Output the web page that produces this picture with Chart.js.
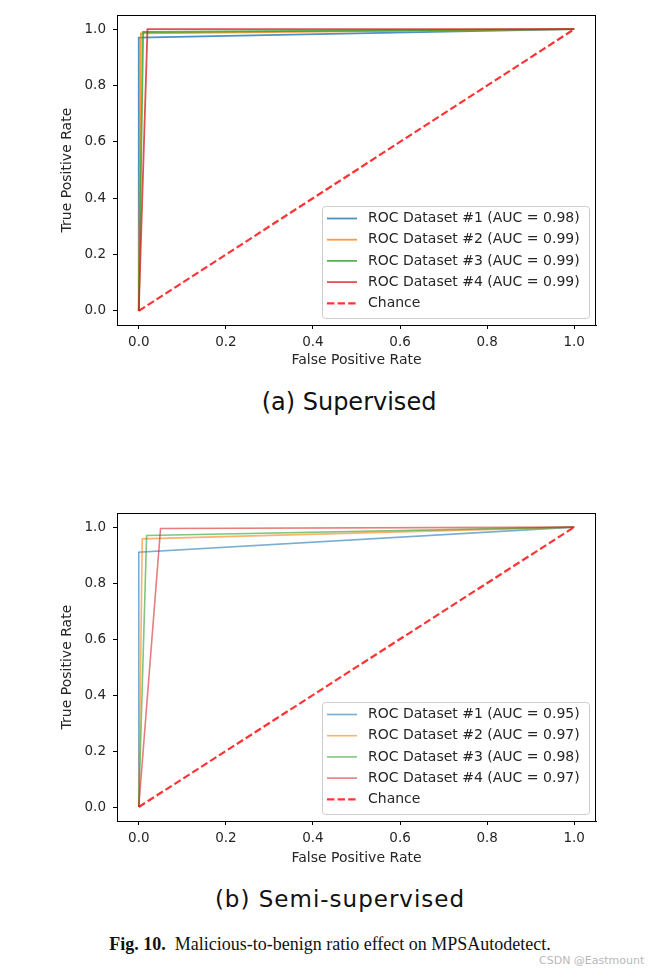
<!DOCTYPE html>
<html>
<head>
<meta charset="utf-8">
<script src="https://cdn.jsdelivr.net/npm/chart.js@4.4.0/dist/chart.umd.min.js"></script>
<style>
  body { margin: 0; background: #fff; width: 652px; height: 978px; position: relative; overflow: hidden; }
  .plot { position: absolute; left: 0; width: 652px; height: 375px; }
  .sub { position: absolute; white-space: nowrap; transform: translateX(-50%); font-family: "DejaVu Sans"; color: #111; line-height: normal; }
  .cap { position: absolute; left: 330px; top: 934px; transform: translateX(-50%); white-space: nowrap;
         font: 18px "Liberation Serif"; color: #111; }
  .mark { position: absolute; left: 539px; top: 954px; font: 11px "DejaVu Sans"; color: #b8b8b8; }
</style>
</head>
<body>
<div class="plot" style="top:0"><canvas id="supChart"></canvas></div>
<div class="sub" style="left:349px; top:388px; font-size:24px">(a) Supervised</div>
<div class="plot" style="top:498px"><canvas id="semiChart"></canvas></div>
<div class="sub" style="left:340px; top:886px; font-size:23px; letter-spacing:1px">(b) Semi-supervised</div>
<div class="cap"><b>Fig. 10.</b>&nbsp; Malicious-to-benign ratio effect on MPSAutodetect.</div>
<div class="mark">CSDN @Eastmount</div>

<script>
// ===== DATA =====
const axisTicks = [0, 0.2, 0.4, 0.6, 0.8, 1.0];

// (a) Supervised - ROC points per dataset
const supLabels = [
  'ROC Dataset #1 (AUC = 0.98)',
  'ROC Dataset #2 (AUC = 0.99)',
  'ROC Dataset #3 (AUC = 0.99)',
  'ROC Dataset #4 (AUC = 0.99)'
];
const supFpr1 = [0, 0, 1];     const supTpr1 = [0, 0.97, 1];
const supFpr2 = [0, 0.005, 1]; const supTpr2 = [0, 0.985, 1];
const supFpr3 = [0, 0.01, 1];  const supTpr3 = [0, 0.99, 1];
const supFpr4 = [0, 0.02, 1];  const supTpr4 = [0, 1.0, 1];

// (b) Semi-supervised
const semiLabels = [
  'ROC Dataset #1 (AUC = 0.95)',
  'ROC Dataset #2 (AUC = 0.97)',
  'ROC Dataset #3 (AUC = 0.98)',
  'ROC Dataset #4 (AUC = 0.97)'
];
const semiFpr1 = [0, 0, 1];     const semiTpr1 = [0, 0.91, 1];
const semiFpr2 = [0, 0.008, 1]; const semiTpr2 = [0, 0.958, 1];
const semiFpr3 = [0, 0.018, 1]; const semiTpr3 = [0, 0.97, 1];
const semiFpr4 = [0, 0.05, 1];  const semiTpr4 = [0, 0.995, 1];

// chance diagonal
const chanceX = [0, 1];
const chanceY = [0, 1];

// ===== STYLE =====
const tab = [[31, 119, 180], [255, 127, 14], [44, 160, 44], [214, 39, 40]];
const textColor = '#262626';
const FONT = 'DejaVu Sans';

function pts(xs, ys) {
  return xs.map((x, i) => ({ x, y: ys[i] }));
}

// frame + matplotlib style legend box in the lower right
const framePlugin = {
  id: 'frameLegend',
  afterDatasetsDraw(chart) {
    const { ctx, chartArea: a } = chart;
    ctx.save();
    ctx.strokeStyle = '#000';
    ctx.lineWidth = 1;
    ctx.strokeRect(Math.round(a.left) + 0.5, Math.round(a.top) + 0.5,
                   Math.round(a.right - a.left) - 1, Math.round(a.bottom - a.top));

    const w = 267, h = 112;
    const bx = a.right - 7 - w, by = a.bottom - 7 - h;
    ctx.fillStyle = 'rgba(255,255,255,0.8)';
    ctx.strokeStyle = '#cccccc';
    ctx.beginPath();
    ctx.roundRect(bx + 0.5, by + 0.5, w, h, 3);
    ctx.fill();
    ctx.stroke();

    ctx.font = '14px "' + FONT + '"';
    ctx.textBaseline = 'middle';
    ctx.fillStyle = textColor;
    // legend order = dataset order (chance last)
    chart.data.datasets.forEach((ds, i) => {
      const y = by + 12.5 + i * 21.2;
      ctx.strokeStyle = ds.borderColor;
      ctx.lineWidth = ds.borderWidth;
      ctx.setLineDash(ds.borderDash || []);
      ctx.beginPath();
      ctx.moveTo(bx + 5, y);
      ctx.lineTo(bx + 35, y);
      ctx.stroke();
      ctx.setLineDash([]);
      ctx.fillText(ds.label, bx + 46, y);
    });
    ctx.restore();
  }
};

function makeChart(id, labels, fprs, tprs, alpha, lw, xAxisH) {
  const datasets = labels.map((label, i) => ({
    label,
    data: pts(fprs[i], tprs[i]),
    borderColor: `rgba(${tab[i].join(',')},${alpha})`,
    borderWidth: lw,
    pointRadius: 0,
    fill: false,
    tension: 0,
    order: 4 - i + 1
  }));
  datasets.push({
    label: 'Chance',
    data: pts(chanceX, chanceY),
    borderColor: 'rgba(255,0,0,0.8)',
    borderWidth: 2.2,
    borderDash: [7.4, 3.2],
    pointRadius: 0,
    fill: false,
    order: 0
  });

  const tickFont = { family: FONT, size: 13.5 };
  const titleFont = { family: FONT, size: 14 };
  const axis = (pos) => ({
    type: 'linear',
    position: pos,
    min: -0.05,
    max: 1.05,
    afterBuildTicks: s => { s.ticks = axisTicks.map(v => ({ value: v })); },
    ticks: {
      callback: v => v.toFixed(1),
      font: tickFont,
      color: textColor,
      padding: pos === 'left' ? 7 : 5,
      autoSkip: false,
      maxRotation: 0
    },
    grid: { drawOnChartArea: false, drawTicks: true, tickLength: 4, color: '#000', lineWidth: 1 },
    border: { color: '#000', width: 1 }
  });

  const x = axis('bottom');
  x.title = { display: true, text: 'False Positive Rate', font: titleFont, color: textColor, padding: { top: 0, bottom: 6.5 } };
  x.afterFit = s => { s.height = xAxisH; };

  const y = axis('left');
  y.title = { display: true, text: 'True Positive Rate', font: titleFont, color: textColor, padding: { top: 59, bottom: 0 } };
  y.afterFit = s => { s.width = 117; };

  return new Chart(document.getElementById(id), {
    type: 'line',
    data: { datasets },
    options: {
      responsive: false,
      animation: false,
      devicePixelRatio: 1,
      layout: { padding: { left: 0, right: 56, top: 12, bottom: 0 } },
      plugins: { legend: { display: false }, tooltip: { enabled: false } },
      scales: { x, y }
    },
    plugins: [framePlugin]
  });
}

// ===== INIT =====
function sizeCanvas(id) {
  const c = document.getElementById(id);
  c.width = 652; c.height = 375;
  c.style.width = '652px'; c.style.height = '375px';
}
sizeCanvas('supChart');
sizeCanvas('semiChart');

makeChart('supChart', supLabels,
  [supFpr1, supFpr2, supFpr3, supFpr4],
  [supTpr1, supTpr2, supTpr3, supTpr4], 0.8, 1.8, 50);

makeChart('semiChart', semiLabels,
  [semiFpr1, semiFpr2, semiFpr3, semiFpr4],
  [semiTpr1, semiTpr2, semiTpr3, semiTpr4], 0.6, 1.6, 52);
</script>
</body>
</html>
